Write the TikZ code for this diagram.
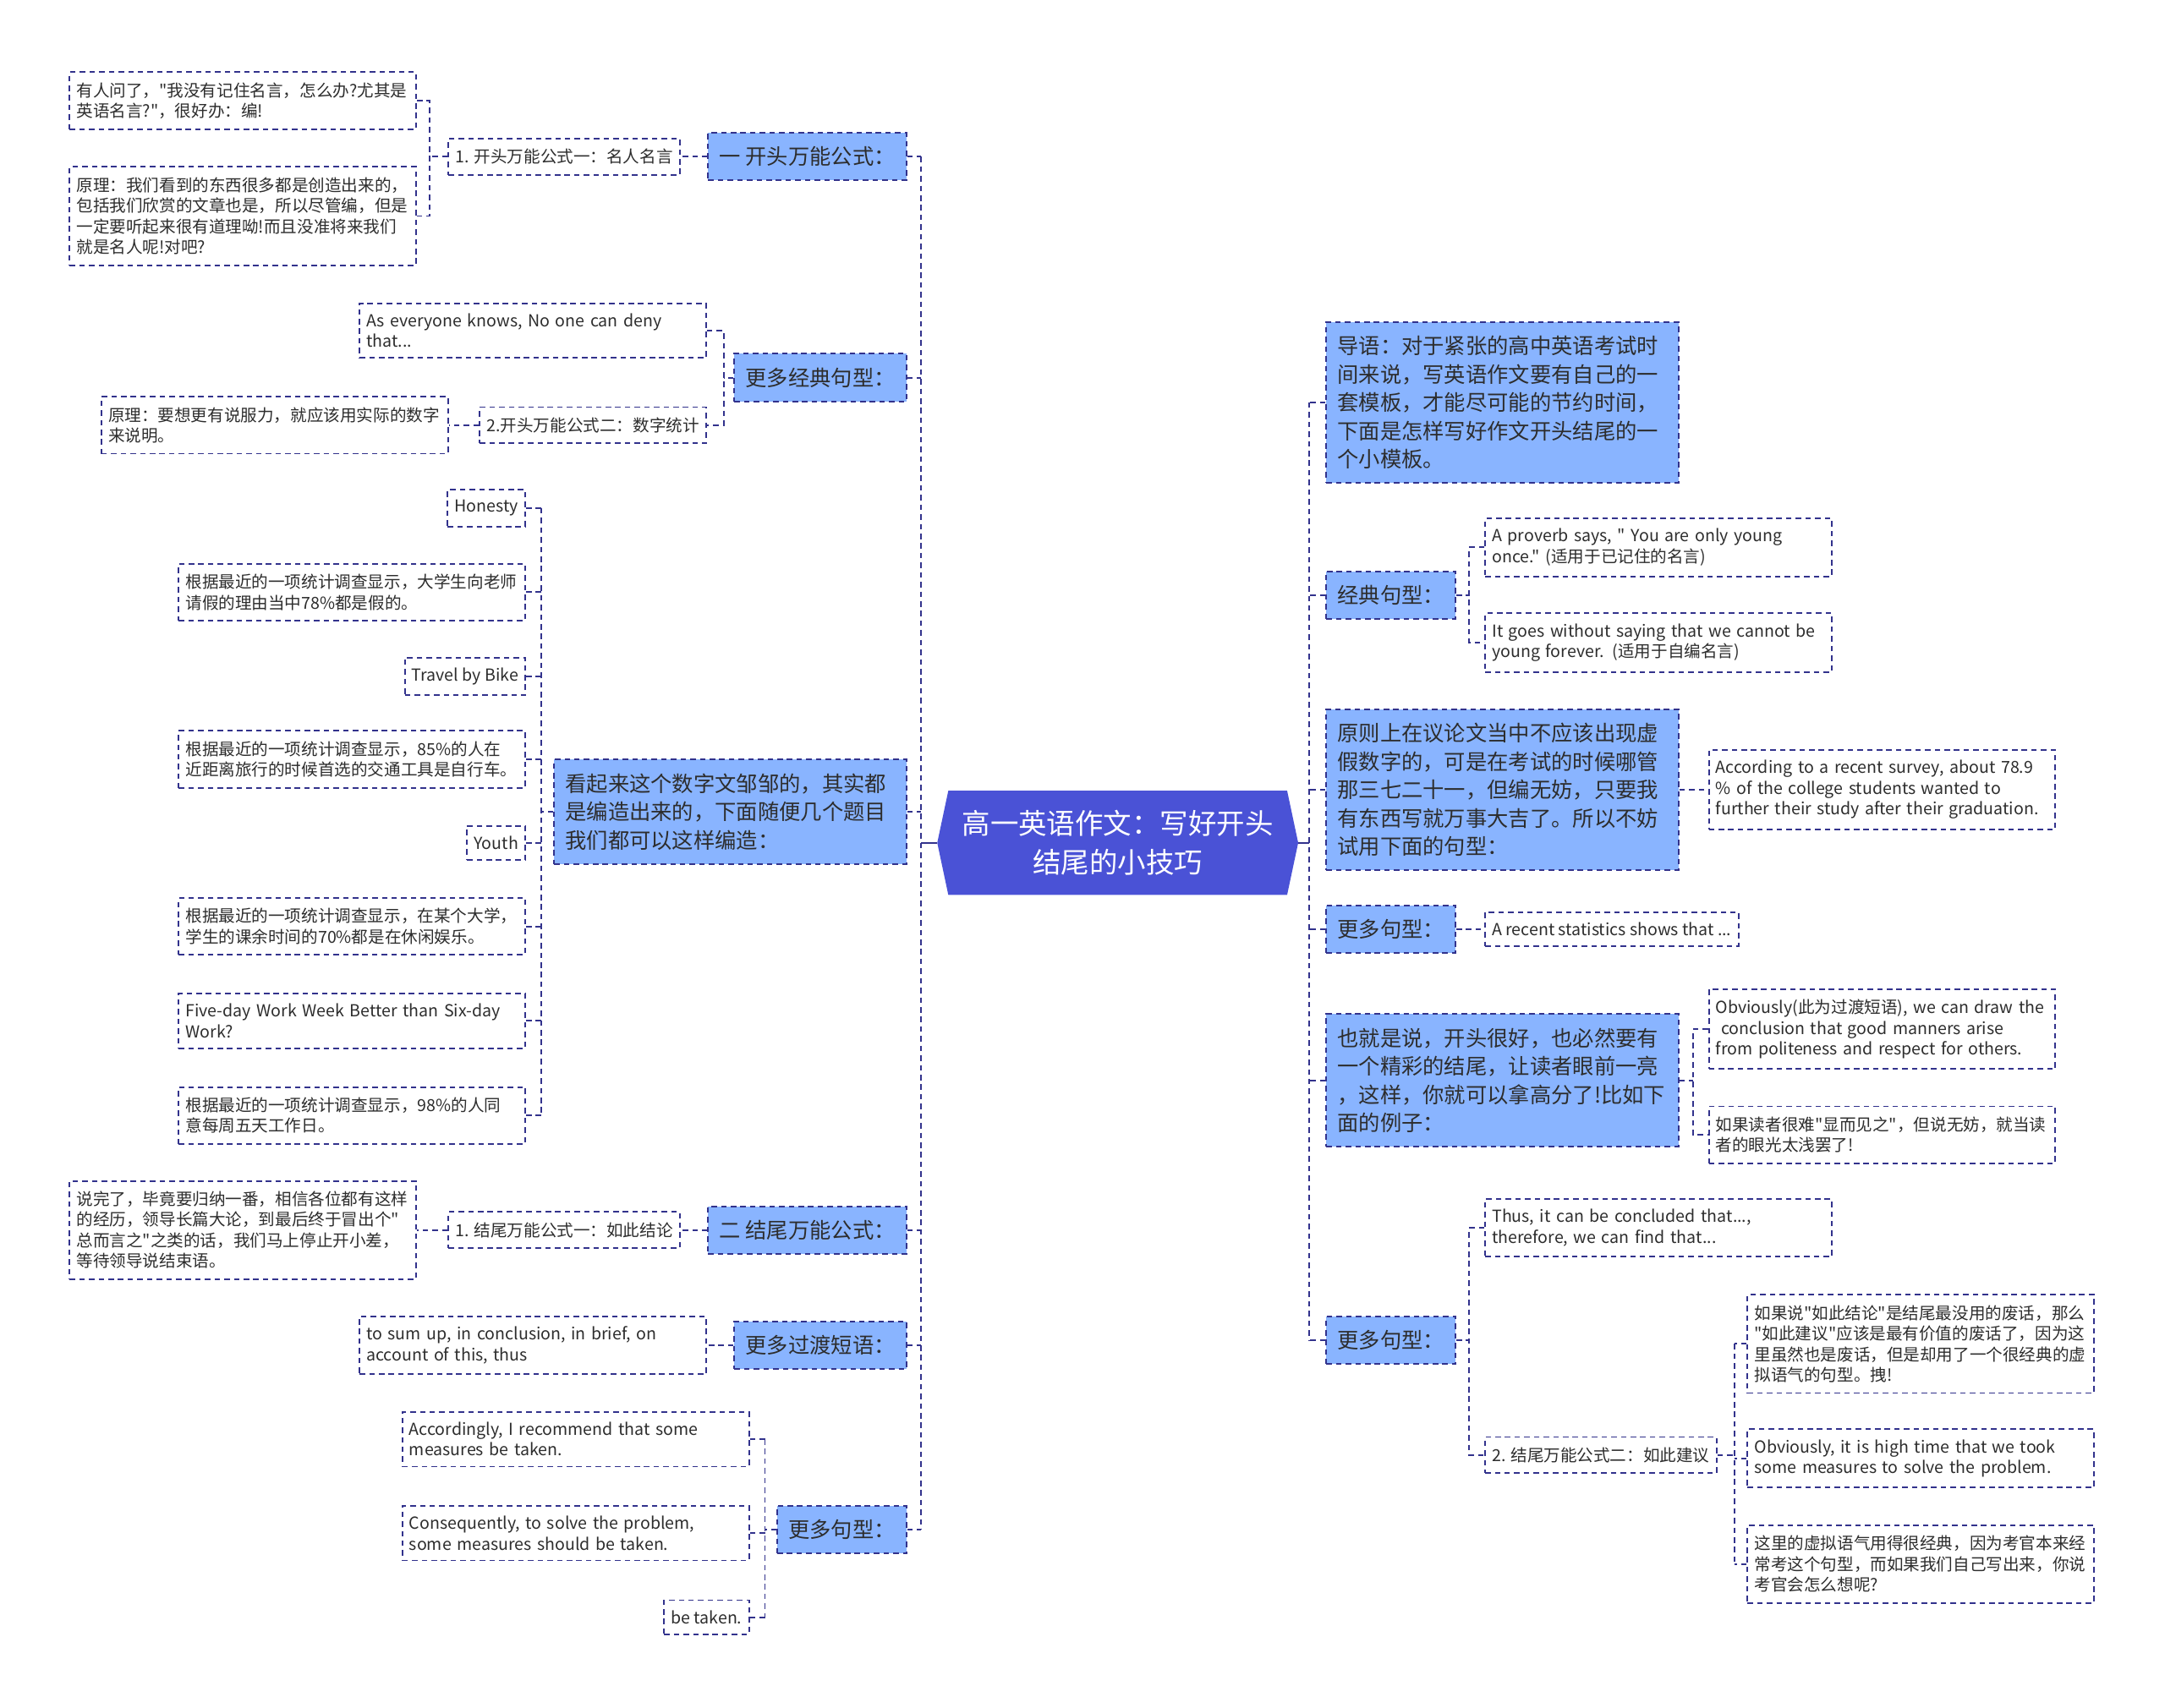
\documentclass[tikz,border=0pt]{standalone}
\usepackage{fontspec}
\setmainfont{Noto Sans CJK SC}[Ligatures=TeXOff]
\usepackage{tikz}
\usetikzlibrary{calc,backgrounds}
\definecolor{DkNavy}{RGB}{50,50,140}
\definecolor{RootBlue}{RGB}{74,82,214}
\definecolor{SkyBlue}{RGB}{137,180,255}
\definecolor{InkGray}{RGB}{45,45,45}

\begin{document}
\begin{tikzpicture}[x=1pt,y=-1pt,
  rootbox/.style={rectangle,minimum width=245pt,minimum height=75pt,
    align=center,text=white,font=\fontsize{20.5}{28}\selectfont},
  mbox/.style={rectangle,draw=DkNavy,fill=SkyBlue,line width=1.2pt,
    dash pattern=on 4pt off 3pt,inner xsep=8pt,inner ysep=10pt,
    align=left,text=InkGray,font=\fontsize{15.5}{20.5}\selectfont},
  mwide/.style={mbox,text width=239pt},
  lbox/.style={rectangle,draw=DkNavy,fill=white,line width=1.2pt,
    dash pattern=on 4pt off 3pt,inner xsep=5pt,inner ysep=7.5pt,
    align=left,text=InkGray,font=\fontsize{12}{15}\selectfont},
  wbox/.style={lbox,text width=241pt},
  link/.style={draw=DkNavy,line width=1.2pt,dash pattern=on 4pt off 3pt},
  stem/.style={draw=DkNavy,line width=1.5pt}
]
\useasboundingbox (0,0) rectangle (1568,1237);

% centre
\node[rootbox] (root) at (809.5,610.5) {高一英语作文：写好开头\\结尾的小技巧};
\begin{scope}[on background layer]
\fill[RootBlue] (root.north west) -- (root.north east) -- ($(root.east)+(8,0)$)
  -- (root.south east) -- (root.south west) -- ($(root.west)+(-8,0)$) -- cycle;
\end{scope}

% left branches
\node[mbox,anchor=east] (kt) at (657,113.5) {一 开头万能公式：};
\node[mbox,anchor=east] (jd) at (657,273.5) {更多经典句型：};
\node[mwide,anchor=east] (bz) at (657,588) {看起来这个数字文邹邹的，其实都\\是编造出来的，下面随便几个题目\\我们都可以这样编造：};
\node[mbox,anchor=east] (jw) at (657,891) {二 结尾万能公式：};
\node[mbox,anchor=east] (gd) at (657,974.5) {更多过渡短语：};
\node[mbox,anchor=east] (gj) at (657,1108) {更多句型：};

% right branches
\node[mwide,anchor=west] (dy) at (960,291.5) {导语：对于紧张的高中英语考试时\\间来说，写英语作文要有自己的一\\套模板，才能尽可能的节约时间，\\下面是怎样写好作文开头结尾的一\\个小模板。};
\node[mbox,anchor=west] (jdr) at (960,431) {经典句型：};
\node[mwide,anchor=west] (yz) at (960,572) {原则上在议论文当中不应该出现虚\\假数字的，可是在考试的时候哪管\\那三七二十一，但编无妨，只要我\\有东西写就万事大吉了。所以不妨\\试用下面的句型：};
\node[mbox,anchor=west] (gd1) at (960,673) {更多句型：};
\node[mwide,anchor=west] (yj) at (960,782.5) {也就是说，开头很好，也必然要有\\一个精彩的结尾，让读者眼前一亮\\，这样，你就可以拿高分了!比如下\\面的例子：};
\node[mbox,anchor=west] (gd2) at (960,971) {更多句型：};

% left leaves
\node[lbox,anchor=east] (mr) at (493,113.5) {1. 开头万能公式一：名人名言};
\node[wbox,anchor=east] (mr1) at (302,73) {有人问了，"我没有记住名言，怎么办?尤其是\\英语名言?"，很好办：编!};
\node[wbox,anchor=east] (mr2) at (302,156.5) {原理：我们看到的东西很多都是创造出来的，\\包括我们欣赏的文章也是，所以尽管编，但是\\一定要听起来很有道理呦!而且没准将来我们\\就是名人呢!对吧?};
\node[wbox,anchor=east] (jd1) at (512,239.5) {As everyone knows, No one can deny\\that...};
\node[lbox,anchor=east] (sz) at (512,308) {2.开头万能公式二：数字统计};
\node[wbox,anchor=east] (sz1) at (325,308) {原理：要想更有说服力，就应该用实际的数字\\来说明。};

\node[lbox,anchor=east] (t1) at (381,368) {Honesty};
\node[wbox,anchor=east] (t2) at (381,429) {根据最近的一项统计调查显示，大学生向老师\\请假的理由当中78\%都是假的。};
\node[lbox,anchor=east] (t3) at (381,490) {Travel by Bike};
\node[wbox,anchor=east] (t4) at (381,550) {根据最近的一项统计调查显示，85\%的人在\\近距离旅行的时候首选的交通工具是自行车。};
\node[lbox,anchor=east] (t5) at (381,610.5) {Youth};
\node[wbox,anchor=east] (t6) at (381,671) {根据最近的一项统计调查显示，在某个大学，\\学生的课余时间的70\%都是在休闲娱乐。};
\node[wbox,anchor=east] (t7) at (381,739.5) {Five-day Work Week Better than Six-day\\Work?};
\node[wbox,anchor=east] (t8) at (381,808) {根据最近的一项统计调查显示，98\%的人同\\意每周五天工作日。};

\node[lbox,anchor=east] (jl) at (493,891) {1. 结尾万能公式一：如此结论};
\node[wbox,anchor=east] (jl1) at (302,891) {说完了，毕竟要归纳一番，相信各位都有这样\\的经历，领导长篇大论，到最后终于冒出个"\\总而言之"之类的话，我们马上停止开小差，\\等待领导说结束语。};
\node[wbox,anchor=east] (gd1x) at (512,974.5) {to sum up, in conclusion, in brief, on\\account of this, thus};
\node[wbox,anchor=east] (gj1) at (543,1042.5) {Accordingly, I recommend that some\\measures be taken.};
\node[wbox,anchor=east] (gj2) at (543,1110.5) {Consequently, to solve the problem,\\some measures should be taken.};
\node[lbox,anchor=east] (gj3) at (543,1171.5) {be taken.};

% right leaves
\node[wbox,anchor=west] (jdr1) at (1075,396.5) {A proverb says, " You are only young\\once." (适用于已记住的名言)};
\node[wbox,anchor=west] (jdr2) at (1075,465.5) {It goes without saying that we cannot be\\young forever. (适用于自编名言)};
\node[wbox,anchor=west] (yz1) at (1237,572) {According to a recent survey, about 78.9\\\% of the college students wanted to\\further their study after their graduation.};
\node[lbox,anchor=west] (gd1a) at (1075,673) {A recent statistics shows that ...};
\node[wbox,anchor=west] (yj1) at (1237,745.5) {Obviously(此为过渡短语), we can draw the\\\ conclusion that good manners arise\\from politeness and respect for others.};
\node[wbox,anchor=west] (yj2) at (1237,822) {如果读者很难"显而见之"，但说无妨，就当读\\者的眼光太浅罢了!};
\node[wbox,anchor=west] (gd2a) at (1075,889.5) {Thus, it can be concluded that...,\\therefore, we can find that...};
\node[lbox,anchor=west] (jy) at (1075,1054) {2. 结尾万能公式二：如此建议};
\node[wbox,anchor=west] (jy1) at (1265,973.5) {如果说"如此结论"是结尾最没用的废话，那么\\"如此建议"应该是最有价值的废话了，因为这\\里虽然也是废话，但是却用了一个很经典的虚\\拟语气的句型。拽!};
\node[wbox,anchor=west] (jy2) at (1265,1056.5) {Obviously, it is high time that we took\\some measures to solve the problem.};
\node[wbox,anchor=west] (jy3) at (1265,1133) {这里的虚拟语气用得很经典，因为考官本来经\\常考这个句型，而如果我们自己写出来，你说\\考官会怎么想呢?};

% bus lines
\coordinate (busL) at (667,0);
\coordinate (busR) at (948,0);
\coordinate (b1) at (311,0);
\coordinate (b2) at (524,0);
\coordinate (b3) at (392,0);
\coordinate (b6) at (554,0);
\coordinate (b8) at (1064,0);
\coordinate (b11) at (1226,0);
\coordinate (b12) at (1064,0);
\coordinate (b13) at (1256,0);

\draw[stem] ($(root.west)+(-8,0)$) -- (root.west -| busL);
\draw[stem] ($(root.east)+(8,0)$) -- (root.east -| busR);
\foreach \n in {kt,jd,bz,jw,gd,gj} \draw[link] (\n.east) -- (\n.east -| busL);
\draw[link] (kt.east -| busL) -- (gj.east -| busL);
\foreach \n in {dy,jdr,yz,gd1,yj,gd2} \draw[link] (\n.west) -- (\n.west -| busR);
\draw[link] (dy.west -| busR) -- (gd2.west -| busR);

\draw[link] (kt.west) -- (mr.east);
\draw[link] (mr.west) -- (mr.west -| b1);
\draw[link] (mr1.east) -- (mr1.east -| b1) |- (mr2.east);
\draw[link] (jd.west) -- (jd.west -| b2);
\draw[link] (jd1.east) -- (jd1.east -| b2) |- (sz.east);
\draw[link] (sz.west) -- (sz1.east);
\draw[link] (bz.west) -- (bz.west -| b3);
\foreach \n in {t1,t2,t3,t4,t5,t6,t7,t8} \draw[link] (\n.east) -- (\n.east -| b3);
\draw[link] (t1.east -| b3) -- (t8.east -| b3);
\draw[link] (jw.west) -- (jl.east);
\draw[link] (jl.west) -- (jl1.east);
\draw[link] (gd.west) -- (gd1x.east);
\draw[link] (gj.west) -- (gj.west -| b6);
\foreach \n in {gj1,gj2,gj3} \draw[link] (\n.east) -- (\n.east -| b6);
\draw[link] (gj1.east -| b6) -- (gj3.east -| b6);

\draw[link] (jdr.east) -- (jdr.east -| b8);
\draw[link] (jdr1.west) -- (jdr1.west -| b8) |- (jdr2.west);
\draw[link] (yz.east) -- (yz1.west);
\draw[link] (gd1.east) -- (gd1a.west);
\draw[link] (yj.east) -- (yj.east -| b11);
\draw[link] (yj1.west) -- (yj1.west -| b11) |- (yj2.west);
\draw[link] (gd2.east) -- (gd2.east -| b12);
\draw[link] (gd2a.west) -- (gd2a.west -| b12) |- (jy.west);
\draw[link] (jy.east) -- (jy.east -| b13);
\foreach \n in {jy1,jy2,jy3} \draw[link] (\n.west) -- (\n.west -| b13);
\draw[link] (jy1.west -| b13) -- (jy3.west -| b13);
\end{tikzpicture}
\end{document}
